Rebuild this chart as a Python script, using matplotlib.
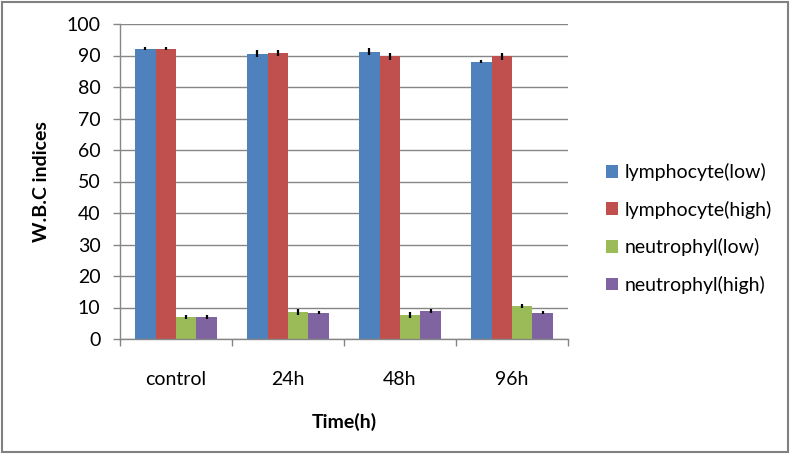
import numpy as np
import matplotlib.pyplot as plt
from matplotlib.patches import Rectangle

plt.rcParams['font.family'] = ['Lato', 'DejaVu Sans']

times = ['control', '24h', '48h', '96h']
series = ['lymphocyte(low)', 'lymphocyte(high)', 'neutrophyl(low)', 'neutrophyl(high)']
lymph_low = [92.2, 90.6, 91.2, 88.0]
lymph_high = [92.2, 90.9, 89.7, 89.7]
neut_low = [7.0, 8.6, 7.6, 10.5]
neut_high = [7.0, 8.3, 8.9, 8.3]
lymph_low_err = [0.6, 1.05, 1.05, 0.5]
lymph_high_err = [0.6, 0.95, 1.05, 1.05]
neut_low_err = [0.65, 1.05, 0.95, 0.6]
neut_high_err = [0.65, 0.5, 0.5, 0.5]
colors = ['#4F81BD', '#C0504D', '#9BBB59', '#8064A2']

values = [lymph_low, lymph_high, neut_low, neut_high]
errors = [lymph_low_err, lymph_high_err, neut_low_err, neut_high_err]

grey = '#868686'
fs = 14

fig = plt.figure(figsize=(7.9, 4.54), dpi=100)
fig.patches.append(Rectangle((0.003, 0.004), 0.994, 0.992, transform=fig.transFigure,
                             fill=False, edgecolor='#808080', linewidth=1.5))
ax = fig.add_axes([120 / 790, 115 / 454, 448 / 790, 315 / 454])

x = np.arange(len(times))
w = 1 / 5.5
for i, (vals, errs) in enumerate(zip(values, errors)):
    ax.bar(x + (i - 1.5) * w, vals, w, color=colors[i], label=series[i],
           yerr=errs, error_kw=dict(ecolor='black', elinewidth=1.6, capsize=0), zorder=2)

ax.set_xlim(-0.5, len(times) - 0.5)
ax.set_ylim(0, 100)
ax.set_yticks(range(0, 101, 10))
ax.set_xticks(x)
ax.set_xticklabels(times)
ax.set_xticks(np.arange(-0.5, len(times)), minor=True)
ax.tick_params(axis='x', which='major', length=0, pad=23, labelsize=fs, colors='black')
ax.tick_params(axis='x', which='minor', length=5, width=1, color=grey)
ax.tick_params(axis='y', length=5, width=1, color=grey, labelsize=fs, pad=9)
ax.grid(axis='y', color=grey, linewidth=1, zorder=0)
ax.set_axisbelow(True)
for side in ['top', 'right']:
    ax.spines[side].set_visible(False)
for side in ['left', 'bottom']:
    ax.spines[side].set_color(grey)
    ax.spines[side].set_linewidth(1)

ax.set_ylabel('W.B.C indices', fontsize=fs, fontweight='bold', labelpad=12)
ax.set_xlabel('Time(h)', fontsize=fs, fontweight='bold', labelpad=18)

fig.legend(loc='center left', bbox_to_anchor=(588 / 790, 0.497), frameon=False,
           fontsize=fs, handlelength=0.62, handleheight=0.62, handletextpad=0.35,
           labelspacing=1.0)

fig.savefig('out.png', dpi=100)
